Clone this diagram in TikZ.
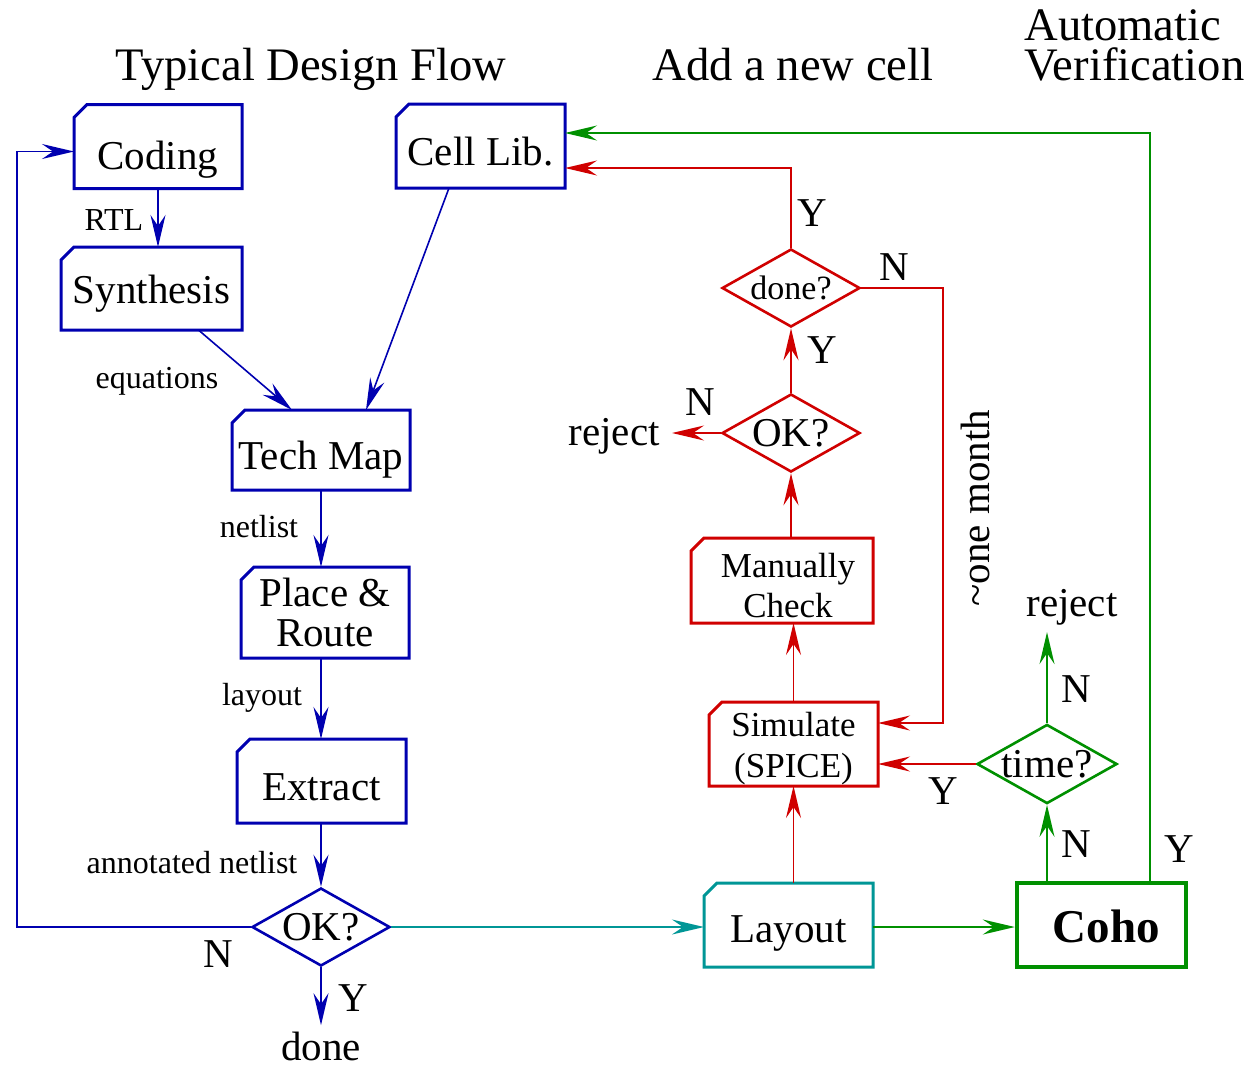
\documentclass[tikz,border=0pt]{standalone}
\usepackage{fontspec}
\setmainfont{Liberation Serif}
\usetikzlibrary{shapes.geometric,arrows.meta}
\definecolor{blueC}{HTML}{0000B0}
\definecolor{redC}{HTML}{D00000}
\definecolor{greenC}{HTML}{009000}
\definecolor{tealC}{HTML}{009696}
\tikzset{
  big/.style={font=\fontsize{20.5}{20}\selectfont},
  small/.style={font=\fontsize{16}{18}\selectfont},
  ttl/.style={font=\fontsize{23.3}{20}\selectfont},
  card/.style={rectangle, minimum width=84pt, minimum height=42pt, inner sep=0pt, outer sep=0pt, big, align=center},
  bl/.style={text depth=0pt, text height=#1pt},
  dia/.style={diamond, line width=1.3pt, minimum width=69pt, minimum height=39pt, inner sep=0pt, aspect=1.77, big},
  lbl/.style={inner sep=0pt, big, anchor=base},
  slbl/.style={inner sep=0pt, small, anchor=base},
  con/.style={line width=0.8pt, -{Stealth[length=16pt, width=7.5pt, inset=5.5pt]}},
}
\newcommand\cardoutline[2]{\draw[#2, line width=1.5pt, line join=miter] ([yshift=-6.5pt]#1.north west) -- ([xshift=6.5pt]#1.north west) -- (#1.north east) -- (#1.south east) -- (#1.south west) -- cycle;}
\begin{document}
\begin{tikzpicture}[x=0.5pt,y=-0.5pt]
\useasboundingbox (0,0) rectangle (1256,1067);
% titles
\node[ttl, anchor=base, inner sep=0pt] (t1) at (311,80) {Typical Design Flow};
\node[ttl, anchor=base, inner sep=0pt] (t2) at (793,80) {Add a new cell};
\node[ttl, anchor=base west, inner sep=0pt] (t3) at (1024,40) {Automatic};
\node[ttl, anchor=base west, inner sep=0pt] (t4) at (1024,80) {Verification};
% blue flow
\node[card, bl=22.5] (coding) at (158,146.5) {Coding};
\node[card, bl=19, minimum width=84.5pt] (cell) at (480.5,146) {Cell Lib.};
\node[card, bl=14.5, minimum width=90.5pt, minimum height=41.5pt] (synth) at (151.5,288.5) {Synthesis};
\node[card, bl=19, minimum width=89pt, minimum height=40pt] (tech) at (321,450) {Tech Map};
\node[card, minimum width=84pt, minimum height=45.5pt] (place) at (325,612.5) {Place \&\\Route};
\node[card, bl=19, minimum width=84.5pt] (extract) at (321.5,781) {Extract};
\cardoutline{coding}{blueC}
\cardoutline{cell}{blueC}
\cardoutline{synth}{blueC}
\cardoutline{tech}{blueC}
\cardoutline{place}{blueC}
\cardoutline{extract}{blueC}
\node[dia, draw=blueC] (ok1) at (321,927) {OK?};
\node[lbl] (done1) at (321,1060) {done};
\coordinate (lft) at (17,927);
\draw[con, blueC] (coding.south) -- (coding.south |- synth.north);
\draw[con, blueC] ([xshift=23.5pt]synth.south) -- ([xshift=-14.5pt]tech.north);
\draw[con, blueC] ([xshift=-15.75pt]cell.south) -- ([xshift=22.5pt]tech.north);
\draw[con, blueC] (tech.south) -- (tech.south |- place.north);
\draw[con, blueC] (tech.south |- place.south) -- (tech.south |- extract.north);
\draw[con, blueC] (ok1.north |- extract.south) -- (ok1.north);
\draw[con, blueC] (ok1.south) -- ([yshift=3pt]done1.north);
\draw[con, blueC] (ok1.west) -- (lft) |- ([yshift=-2.5pt]coding.west);
\node[slbl] (l1) at (114,230) {RTL};
\node[slbl] (l2) at (157,388) {equations};
\node[slbl] (l3) at (259,537) {netlist};
\node[slbl] (l4) at (262,705) {layout};
\node[slbl] (l5) at (192,873) {annotated netlist};
\node[lbl] (n1) at (218,967) {N};
\node[lbl] (y1) at (353,1011) {Y};
% layout and coho
\node[card, bl=17, minimum width=84.5pt] (layout) at (788.5,925) {Layout};
\cardoutline{layout}{tealC}
\node[rectangle, draw=greenC, line width=2.2pt, minimum width=84.5pt, minimum height=42pt, inner sep=0pt,
  bl=17, font=\fontsize{23.5}{24}\selectfont\bfseries] (coho) at (1101.5,925) {\hspace*{5pt}Coho};
\draw[con, tealC] (ok1.east) -- (ok1.east -| layout.west);
\draw[con, greenC] (ok1.east -| layout.east) -- (ok1.east -| coho.west);
% red flow
\node[card, minimum width=84.5pt, font=\fontsize{17.5}{20.5}\selectfont] (sim) at (793.5,744) {\rule{0pt}{17pt}Simulate\\(SPICE)};
\node[card, minimum width=91pt, minimum height=42.5pt, font=\fontsize{17.5}{20}\selectfont] (man) at (782,580.5) {\rule{0pt}{17pt}\hspace*{6pt}Manually\\\hspace*{6pt}Check};
\cardoutline{sim}{redC}
\cardoutline{man}{redC}
\node[dia, draw=redC] (ok2) at (791,433) {OK?};
\node[dia, draw=redC, font=\fontsize{17}{18}\selectfont] (done2) at (791,288) {done?};
\node[lbl, anchor=base east] (rej1) at (660,445) {reject};
\coordinate (mo) at (943,288);
\draw[con, redC] (sim.south |- layout.north) -- (sim.south);
\draw[con, redC] (sim.north) -- (sim.north |- man.south);
\draw[con, redC] (ok2.south |- man.north) -- (ok2.south);
\draw[con, redC] (ok2.north) -- (done2.south);
\draw[con, redC] (ok2.west) -- ([xshift=6pt]rej1.east |- ok2.west);
\draw[con, redC] (done2.north) |- ([yshift=-11pt]cell.east);
\draw[con, redC] (done2.east) -- (mo) |- ([yshift=10.5pt]sim.east);
\node[lbl] (y2) at (812,226) {Y};
\node[lbl] (n2) at (894,280) {N};
\node[lbl] (y3) at (822,363) {Y};
\node[lbl] (n3) at (700,415) {N};
\node[big, rotate=90, inner sep=0pt] (month) at (975,508) {\textasciitilde one month};
% green verification
\node[dia, draw=greenC, aspect=1.77] (time) at (1047,764) {time?};
\node[lbl] (rej2) at (1072,616) {reject};
\draw[con, redC] (time.west) -- ([yshift=-10pt]sim.east);
\draw[con, greenC] (time.south |- coho.north) -- (time.south);
\draw[con, greenC] (time.north) -- ([yshift=-3.5pt]time.north |- rej2.south);
\draw[con, greenC] ([xshift=24.25pt]coho.north) |- ([yshift=6.5pt]cell.east);
\node[lbl] (y4) at (943,804) {Y};
\node[lbl] (n4) at (1076,857) {N};
\node[lbl] (n5) at (1076,702) {N};
\node[lbl] (y5) at (1179,862) {Y};
\end{tikzpicture}
\end{document}
